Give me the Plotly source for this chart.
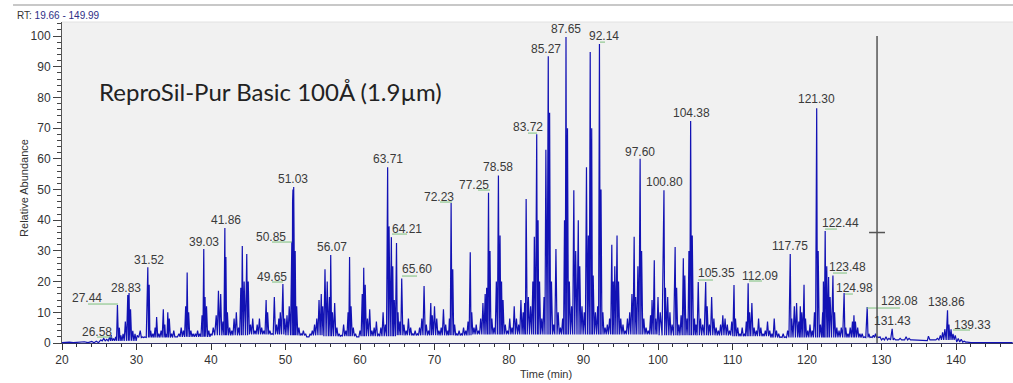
import plotly.graph_objects as go

# ---------------- data ----------------
peak_time = [
    21.0, 22.0, 23.0, 24.0, 24.6, 25.2, 25.6, 26.0, 26.4, 26.6,
    26.9, 27.2, 27.44, 27.7, 27.9, 28.2, 28.5, 28.83, 29.0, 29.2,
    29.5, 29.8, 30.1, 30.5, 30.8, 31.1, 31.52, 31.7, 31.9, 32.2,
    32.5, 32.7, 33.0, 33.3, 33.6, 33.8, 34.0, 34.2, 34.4, 34.7,
    35.0, 35.3, 35.7, 36.0, 36.3, 36.6, 36.8, 37.0, 37.3, 37.6,
    37.9, 38.2, 38.5, 38.8, 39.03, 39.2, 39.4, 39.7, 40.0, 40.3,
    40.7, 41.0, 41.3, 41.6, 41.86, 42.0, 42.2, 42.5, 42.8, 43.1,
    43.4, 43.7, 44.0, 44.2, 44.45, 44.8, 45.0, 45.3, 45.6, 45.9,
    46.2, 46.5, 46.8, 47.1, 47.4, 47.6, 47.9, 48.2, 48.5, 48.8,
    49.1, 49.3, 49.65, 49.9, 50.2, 50.5, 50.85, 50.95, 51.0, 51.05,
    51.1, 51.2, 51.3,
    51.5, 51.8, 52.1, 52.4, 52.7, 53.0, 53.3, 53.6, 53.9, 54.2,
    54.5, 54.8, 55.0, 55.3, 55.6, 55.9, 56.07, 56.3, 56.6, 56.9,
    57.2, 57.5, 57.8, 58.1, 58.4, 58.6, 58.8, 59.1, 59.4, 59.7,
    60.0, 60.3, 60.5, 60.7, 61.0, 61.3, 61.6, 61.9, 62.2, 62.5,
    62.8, 63.1, 63.4, 63.71, 63.9, 64.21, 64.4, 64.6, 64.9, 65.1,
    65.35, 65.6, 65.9, 66.2, 66.5, 66.8, 67.1, 67.4, 67.7, 68.0,
    68.3, 68.6, 68.9, 69.2, 69.5, 69.7, 70.0, 70.3, 70.6, 70.9,
    71.2, 71.5, 71.8, 72.0, 72.23, 72.45, 72.7, 73.0, 73.3, 73.6,
    73.9, 74.2, 74.5, 74.8, 75.0, 75.3, 75.6, 75.9, 76.2, 76.5,
    76.8, 77.0, 77.25, 77.45, 77.7, 78.0, 78.3, 78.58, 78.8, 79.0,
    79.2, 79.5, 79.8, 80.1, 80.4, 80.7, 81.0, 81.3, 81.6, 81.9,
    82.1, 82.3, 82.6, 82.9, 83.2, 83.4, 83.72, 83.9, 84.1, 84.4,
    84.7, 84.95, 85.27, 85.45, 85.7, 86.0, 86.3, 86.6, 86.9, 87.2,
    87.45, 87.65, 87.85, 88.1, 88.4, 88.7, 88.95, 89.3, 89.5, 89.8,
    90.1, 90.4, 90.65, 90.9, 91.1, 91.3, 91.6, 91.9, 92.14, 92.35,
    92.6, 92.9, 93.2, 93.5, 93.8, 94.0, 94.2, 94.5, 94.7, 95.0,
    95.3, 95.6, 95.9, 96.2, 96.5, 96.8, 97.0, 97.3, 97.6, 97.8,
    98.1, 98.4, 98.7, 99.0, 99.2, 99.5, 99.7, 100.0, 100.3, 100.8,
    101.0, 101.3, 101.6, 101.9, 102.3, 102.5, 102.8, 103.1, 103.4, 103.6,
    103.9, 104.15, 104.38, 104.6, 104.9, 105.1, 105.4, 105.7, 106.0, 106.4,
    106.6, 106.9, 107.2, 107.5, 107.8, 108.1, 108.4, 108.7, 109.0, 109.3,
    109.6, 109.9, 110.2, 110.4, 110.7, 111.0, 111.3, 111.6, 111.85, 112.1,
    112.3, 112.6, 112.9, 113.2, 113.5, 113.8, 114.1, 114.4, 114.7, 115.0,
    115.3, 115.6, 115.9, 116.2, 116.5, 116.8, 117.1, 117.4, 117.75, 117.95,
    118.3, 118.6, 118.9, 119.1, 119.3, 119.6, 119.8, 120.1, 120.4, 120.7,
    121.0, 121.3, 121.5, 121.8, 122.1, 122.2, 122.44, 122.65, 122.9, 123.1,
    123.48, 123.7, 124.0, 124.3, 124.6, 124.98, 125.2, 125.5, 125.8, 126.1,
    126.3, 126.5, 126.8, 127.1, 127.4, 127.7, 128.08, 128.3, 128.6, 128.9,
    129.2, 129.5, 129.8, 130.2, 130.6, 131.0, 131.43, 131.7, 132.1, 132.5,
    132.9, 133.3, 133.7, 134.1, 134.5, 135.0, 135.5, 136.0, 136.3, 136.7,
    137.1, 137.5, 137.9, 138.2, 138.5, 138.86, 139.05, 139.33, 139.6, 139.9,
    140.3, 140.7, 141.1, 141.5, 142.0, 145.0, 147.6,
]
peak_height = [
    0.3, 0.2, 0.4, 0.5, 0.6, 1.0, 1.5, 1.2, 2.0, 2.6,
    1.5, 2.0, 12.4, 5.0, 2.5, 3.0, 7.0, 15.6, 16.3, 11.0,
    4.0, 3.0, 2.5, 4.0, 2.0, 2.0, 24.7, 19.0, 4.0, 3.0,
    5.0, 8.5, 3.0, 4.0, 11.0, 6.0, 3.0, 10.0, 8.0, 3.0,
    4.0, 2.0, 3.0, 5.0, 4.0, 12.0, 23.0, 10.0, 4.0, 3.0,
    3.0, 4.0, 3.0, 9.0, 30.6, 15.0, 12.0, 4.0, 3.0, 5.0,
    9.0, 17.0, 16.0, 7.0, 37.5, 28.0, 10.0, 5.0, 4.0, 8.0,
    10.0, 5.0, 18.0, 31.6, 20.0, 29.0, 20.0, 6.0, 8.0, 4.0,
    6.0, 8.0, 5.0, 4.0, 14.0, 10.0, 4.0, 3.0, 15.0, 6.0,
    8.0, 10.0, 19.2, 8.0, 9.0, 12.0, 33.0, 46.0, 50.0, 44.0,
    50.8, 42.0, 30.0,
    12.0, 5.0, 3.0, 4.0, 3.0, 2.0, 3.0, 4.0, 6.0, 8.0,
    14.0, 16.0, 12.0, 24.0, 20.0, 15.0, 28.7, 10.0, 13.0, 5.0,
    3.0, 2.5, 6.0, 4.0, 10.0, 28.0, 12.0, 5.0, 3.0, 2.0,
    4.0, 16.0, 24.5, 19.0, 8.0, 11.0, 4.0, 5.0, 7.0, 3.0,
    5.0, 10.0, 6.0, 57.3, 38.0, 34.5, 25.0, 14.0, 32.6, 10.0,
    7.0, 21.0, 6.0, 4.0, 8.0, 5.0, 3.0, 4.0, 3.0, 5.0,
    8.0, 18.6, 6.0, 4.0, 13.0, 9.0, 12.0, 8.0, 4.0, 5.0,
    11.0, 6.0, 4.0, 8.0, 45.6, 24.0, 6.0, 3.0, 4.0, 3.0,
    5.0, 4.0, 7.0, 29.6, 10.0, 5.0, 6.0, 4.0, 8.0, 13.0,
    16.0, 18.0, 49.0, 30.0, 8.0, 5.0, 20.0, 54.6, 35.0, 20.0,
    14.0, 6.0, 4.0, 8.0, 5.0, 12.0, 8.0, 6.0, 14.0, 10.0,
    13.0, 46.9, 15.0, 12.0, 20.0, 34.6, 68.0, 40.0, 20.0, 8.0,
    15.0, 63.0, 93.4, 75.0, 20.0, 6.0, 30.6, 10.0, 5.0, 8.0,
    40.0, 99.7, 70.0, 20.0, 12.0, 49.8, 30.0, 40.0, 25.0, 12.0,
    10.0, 57.3, 35.0, 94.8, 70.0, 22.0, 10.0, 12.0, 97.4, 50.0,
    10.0, 5.0, 6.0, 8.0, 32.0, 20.0, 25.0, 35.0, 20.0, 8.0,
    6.0, 4.0, 8.0, 10.0, 16.0, 34.6, 15.0, 25.0, 60.0, 30.0,
    8.0, 5.0, 4.0, 9.0, 14.0, 27.0, 8.0, 15.0, 10.0, 49.8,
    18.0, 15.0, 10.0, 6.0, 31.3, 18.0, 6.0, 9.0, 27.6, 22.0,
    8.0, 30.0, 72.3, 35.0, 8.0, 6.0, 19.9, 8.0, 6.0, 19.9,
    12.0, 6.0, 15.0, 8.0, 5.0, 4.0, 6.0, 9.0, 8.0, 6.0,
    4.0, 7.0, 18.9, 8.0, 5.0, 3.0, 5.0, 3.0, 7.0, 19.5,
    10.0, 13.0, 5.0, 4.0, 8.0, 5.0, 3.0, 4.0, 7.0, 4.0,
    3.0, 8.0, 4.0, 3.0, 2.0, 3.0, 2.0, 4.0, 29.0, 8.0,
    12.0, 13.0, 7.0, 12.0, 10.0, 19.0, 8.0, 4.0, 6.0, 4.0,
    10.0, 76.5, 30.0, 6.0, 10.0, 20.0, 36.5, 25.0, 21.5, 15.0,
    22.0, 10.0, 5.0, 4.0, 5.0, 16.3, 5.0, 3.0, 5.0, 7.0,
    9.0, 7.0, 5.0, 3.0, 3.0, 2.0, 11.7, 3.0, 2.0, 2.5,
    3.0, 2.0, 2.0, 1.5, 2.0, 1.5, 4.6, 1.5, 1.0, 1.5,
    1.0, 2.0, 1.5, 1.0, 1.0, 0.8, 1.0, 0.8, 2.2, 1.0,
    1.0, 1.5, 2.5, 3.5, 4.5, 10.7, 6.0, 4.5, 3.0, 2.5,
    1.5, 1.2, 0.6, 0.3, 0.1, 0.1, 0.1,
]
# noise floor between spikes, per 5-minute bin starting at 20 min
floor_bin_start = [20, 25, 30, 35, 40, 45, 50, 55, 60, 65, 70, 75, 80,
                   85, 90, 95, 100, 105, 110, 115, 120, 125, 130, 135, 140, 145]
floor_level = [0.1, 0.7, 1.8, 2.0, 2.5, 2.8, 2.5, 2.2, 2.2, 2.5, 2.5, 2.8, 2.8,
               2.8, 2.8, 2.8, 2.5, 2.5, 2.2, 1.8, 1.8, 1.8, 1.0, 1.0, 0.3, 0.1]

# peak labels (text, position in data units)
label_text = ["26.58", "27.44", "28.83", "31.52", "39.03", "41.86", "49.65", "50.85",
              "51.03", "56.07", "63.71", "64.21", "65.60", "72.23", "77.25", "78.58",
              "83.72", "85.27", "87.65", "92.14", "97.60", "100.80", "104.38", "105.35",
              "112.09", "117.75", "121.30", "122.44", "123.48", "124.98", "128.08",
              "131.43", "138.86", "139.33"]
label_t = [24.70, 23.36, 28.59, 31.68, 39.06, 42.01, 48.19, 48.05,
           51.01, 56.24, 63.76, 66.31, 67.65, 70.60, 75.30, 78.52,
           82.55, 84.97, 87.65, 92.75, 97.58, 100.81, 104.43, 107.79,
           113.69, 117.72, 121.34, 124.43, 125.50, 126.44, 132.48,
           131.41, 138.79, 142.15]
label_v = [3.6, 14.7, 17.9, 27.0, 32.9, 40.1, 21.5, 34.5,
           53.4, 31.3, 59.9, 37.1, 24.1, 47.6, 51.5, 57.3,
           70.4, 95.8, 102.3, 100.0, 62.2, 52.4, 74.9, 22.8,
           21.8, 31.6, 79.5, 39.1, 24.8, 17.9, 13.7,
           7.2, 13.4, 5.9]
# green leader lines under some labels
leader_t0 = [24.70, 23.49, 48.19, 48.19, 64.30, 65.64, 70.74, 75.84, 82.55, 92.21,
             105.37, 112.21, 122.42, 123.49, 125.10, 128.05, 139.60]
leader_t1 = [26.71, 27.52, 49.66, 50.87, 66.31, 67.65, 72.35, 77.45, 83.76, 92.89,
             107.38, 113.96, 124.03, 125.37, 126.17, 132.48, 141.88]
leader_v = [1.95, 12.70, 19.87, 32.90, 35.50, 21.82, 45.93, 49.84, 68.40, 98.05,
            20.52, 20.20, 37.13, 22.80, 15.96, 11.40, 4.23]

cursor_t = 129.40
cursor_mark_v = 36.0

# ---------------- build the trace polyline ----------------
xs, ys = [20.0], [0.1]
for i in range(len(peak_time)):
    xs.append(peak_time[i])
    ys.append(peak_height[i])
    if i < len(peak_time) - 1:
        mid = (peak_time[i] + peak_time[i + 1]) / 2
        b = min(int((mid - 20) // 5), len(floor_level) - 1)
        xs.append(mid)
        ys.append(min(floor_level[b], peak_height[i], peak_height[i + 1]))

fig = go.Figure()
fig.add_trace(go.Scatter(x=xs, y=ys, mode="lines",
                         line=dict(color="#1212b4", width=1.2), hoverinfo="skip"))

lx, ly = [], []
for a, b, v in zip(leader_t0, leader_t1, leader_v):
    lx += [a, b, None]
    ly += [v, v, None]
fig.add_trace(go.Scatter(x=lx, y=ly, mode="lines",
                         line=dict(color="#7cc07c", width=1), hoverinfo="skip"))

# cursor line
fig.add_trace(go.Scatter(x=[cursor_t, cursor_t], y=[0, 100], mode="lines",
                         line=dict(color="#555555", width=1.5), hoverinfo="skip"))
fig.add_trace(go.Scatter(x=[cursor_t - 1.07, cursor_t + 1.07], y=[cursor_mark_v, cursor_mark_v],
                         mode="lines", line=dict(color="#555555", width=1.5), hoverinfo="skip"))

ann = []
for txt, t, v in zip(label_text, label_t, label_v):
    ann.append(dict(x=t, y=v, xref="x", yref="y", text=txt, showarrow=False,
                    font=dict(family="Liberation Sans", size=12, color="#3a3a3a"),
                    xanchor="center", yanchor="middle"))

ann.append(dict(x=0.0368, y=0.782, xref="paper", yref="paper",
                text="ReproSil-Pur Basic 100Å (1.9µm)", showarrow=False,
                font=dict(family="Lato", size=24, color="#222222"),
                xanchor="left", yanchor="middle"))
ann.append(dict(x=-0.0494, y=1.0218, xref="paper", yref="paper",
                text="RT: <span style='color:#2e2e86'>19.66 - 149.99</span>", showarrow=False,
                font=dict(family="Liberation Sans", size=10, color="#333333"),
                xanchor="left", yanchor="middle"))
ann.append(dict(x=-0.04, y=0.483, xref="paper", yref="paper", text="Relative Abundance",
                showarrow=False, textangle=-90,
                font=dict(family="Liberation Sans", size=11, color="#333333"),
                xanchor="center", yanchor="middle"))
ann.append(dict(x=0.509, y=-0.0966, xref="paper", yref="paper", text="Time (min)",
                showarrow=False, font=dict(family="Liberation Sans", size=11, color="#333333"),
                xanchor="center", yanchor="middle"))

fig.update_layout(
    width=1013, height=383,
    margin=dict(l=62, r=0, t=22, b=40),
    paper_bgcolor="white", plot_bgcolor="#f1f1f1",
    showlegend=False,
    annotations=ann,
    shapes=[dict(type="line", xref="paper", yref="paper", x0=-0.0515, x1=1.0,
                 y0=1.053, y1=1.053, line=dict(color="#c8c8c8", width=2)),
            dict(type="line", xref="paper", yref="paper", x0=0, x1=1.0,
                 y0=1.0, y1=1.0, line=dict(color="#e2e2e2", width=1))],
    xaxis=dict(range=[20, 147.65], tickvals=[20, 30, 40, 50, 60, 70, 80, 90, 100,
                                             110, 120, 130, 140],
               showgrid=False, zeroline=False, showline=True, linecolor="#333366",
               linewidth=1, ticks="outside", ticklen=6, tickcolor="#333333",
               tickfont=dict(family="Liberation Sans", size=12, color="#333333"),
               minor=dict(ticks="outside", ticklen=3, dtick=2, tickcolor="#333333")),
    yaxis=dict(range=[0, 104.6], tickvals=[0, 10, 20, 30, 40, 50, 60, 70, 80, 90, 100],
               showgrid=False, zeroline=False, showline=True, linecolor="#555555",
               linewidth=1, ticks="outside", ticklen=8, tickcolor="#444444",
               tickfont=dict(family="Liberation Sans", size=12, color="#333333"),
               minor=dict(ticks="outside", ticklen=4, dtick=2, tickcolor="#444444")),
)

fig.write_html("out.html")
